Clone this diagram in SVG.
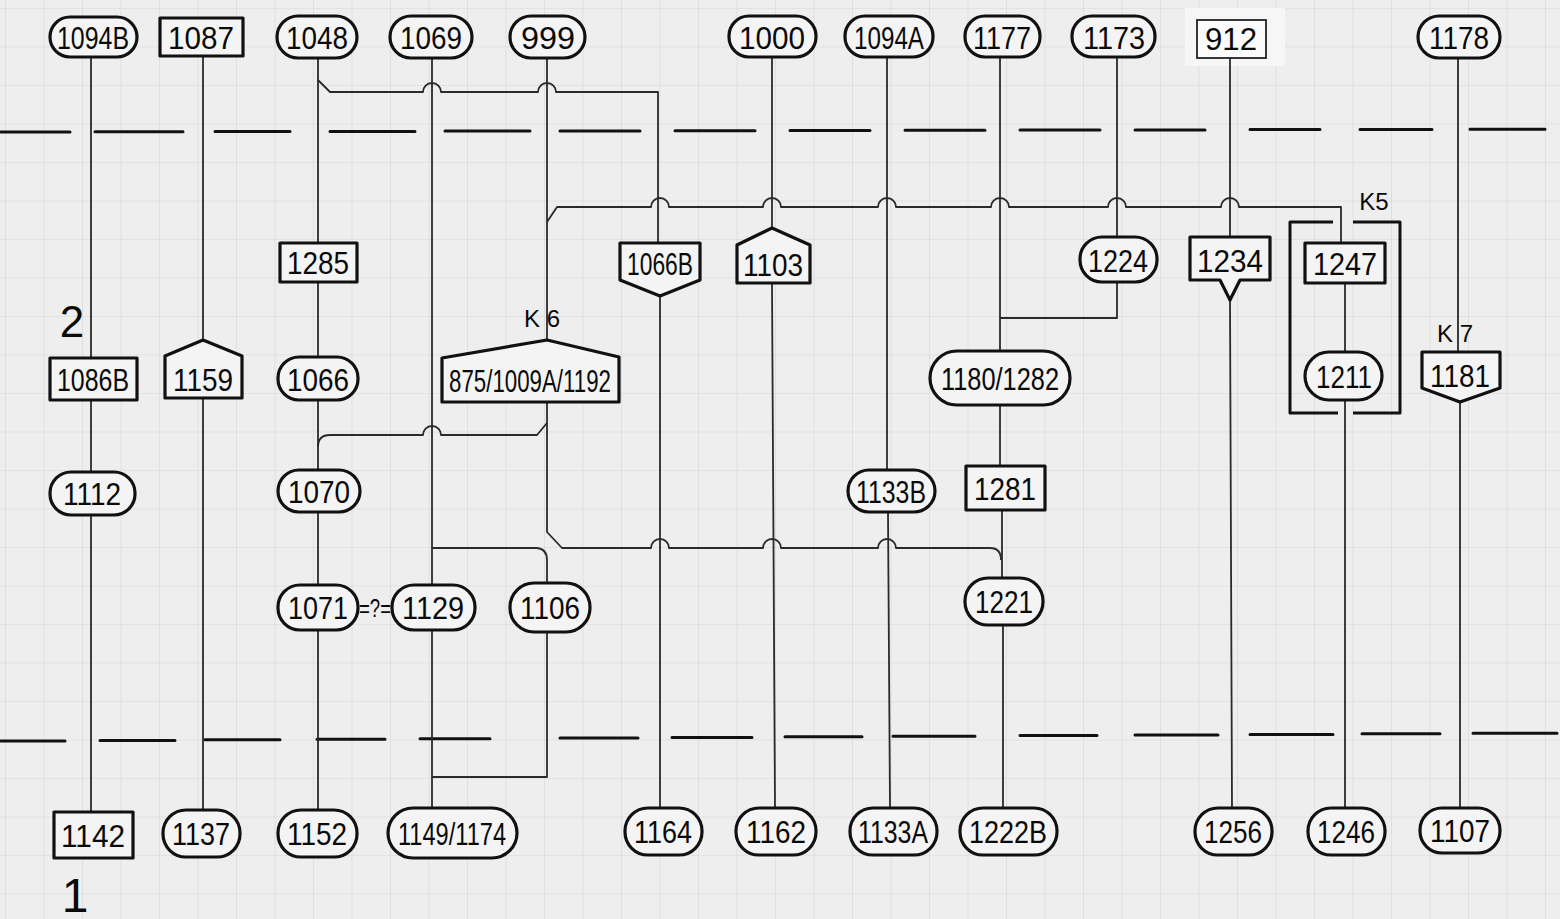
<svg xmlns="http://www.w3.org/2000/svg" width="1560" height="919" viewBox="0 0 1560 919">
<style>
.nd{fill:#f4f4f4;stroke:#111;stroke-width:3.2;stroke-linejoin:round}
.thin{fill:#fbfbfb;stroke:#222;stroke-width:1.8}
.ln{fill:none;stroke:#2a2a2a;stroke-width:1.8;stroke-linejoin:round}
.ph{fill:none;stroke:#111;stroke-width:3;stroke-linecap:round}
.br{fill:none;stroke:#111;stroke-width:3;stroke-linejoin:round}
.t{font-family:"Liberation Sans",Arial,sans-serif;font-size:32px;fill:#0a0a0a;text-anchor:middle}
.lb{font-family:"Liberation Sans",Arial,sans-serif;fill:#0a0a0a;text-anchor:middle}
</style>
<defs>
<pattern id="grid" x="5" y="8" width="38.5" height="38.5" patternUnits="userSpaceOnUse">
<path d="M0 0H38.5M0 0V38.5" fill="none" stroke="#d6d6d6" stroke-width="1.2"/>
</pattern>
</defs>
<rect width="1560" height="919" fill="#eeeeee"/>
<rect width="1560" height="919" fill="url(#grid)"/>
<rect x="1185" y="8" width="100" height="58" fill="#f6f6f6"/>

<g id="phase-lines">
<path class="ph" d="M0 132H70M95 131.8H183M215 131.6H290M330 131.4H415M445 131.1H530M560 130.9H640M675 130.7H755M790 130.5H870M905 130.3H985M1020 130.1H1100M1135 129.9H1205M1250 129.6H1320M1360 129.4H1432M1470 129.2H1545"/>
<path class="ph" d="M0 741H65M100 740.4H175M205 739.8H280M317 739.2H385M420 738.7H490M560 738H638M672 737.4H752M785 736.8H862M893 736.2H975M1020 735.6H1097M1135 735H1218M1250 734.4H1333M1362 733.8H1440M1473 733.3H1557"/>
</g>

<g id="connectors">
<path class="ln" d="M91 57V358M91 400V472M91 515V812"/>
<path class="ln" d="M203 56V340M203 398V810"/>
<path class="ln" d="M318 58V243M318 282V357M318 400V470M318 512V585M318 630V810"/>
<path class="ln" d="M432 58V585M432 630V808"/>
<path class="ln" d="M547 58V340"/>
<path class="ln" d="M318 80L330 92H423A9 9 0 0 1 441 92H538A9 9 0 0 1 556 92H658V243"/>
<path class="ln" d="M660 296V808"/>
<path class="ln" d="M772 57V228M772 283L775 808"/>
<path class="ln" d="M887 57V470M888 512L890 808"/>
<path class="ln" d="M1000 57V350M1000 405V466M1002 510V578M1003 625V808"/>
<path class="ln" d="M1117 57V237M1117 282V318H1000"/>
<path class="ln" d="M1230 58V237M1230 300L1232 808"/>
<path class="ln" d="M1345 283V352M1345 400V808"/>
<path class="ln" d="M1458 58V352M1460 402V808"/>
<path class="ln" d="M547 222L557 207H651A9 9 0 0 1 669 207H763A9 9 0 0 1 781 207H878A9 9 0 0 1 896 207H991A9 9 0 0 1 1009 207H1108A9 9 0 0 1 1126 207H1221A9 9 0 0 1 1239 207H1341V243"/>
<path class="ln" d="M318 447Q318 435 330 435H423A9 9 0 0 1 441 435H537L547 423"/>
<path class="ln" d="M547 402V532L562 548H651A9 9 0 0 1 669 548H763A9 9 0 0 1 781 548H878A9 9 0 0 1 896 548H990Q1001 548 1001 560"/>
<path class="ln" d="M432 548H537Q547 549 547 560V583"/>
<path class="ln" d="M547 632V777H432"/>
</g>

<g id="K5">
<path class="br" d="M1333 222H1290V413H1338M1353 222H1400V413H1353"/>
<text class="lb" x="1374" y="210" font-size="24">K5</text>
</g>

<g id="n1094B"><rect class="nd" x="50" y="17" width="87" height="40" rx="20"/><text class="t" x="93" y="49" textLength="72" lengthAdjust="spacingAndGlyphs">1094B</text></g>
<g id="n1087"><rect class="nd" x="160" y="18" width="83" height="38"/><text class="t" x="201" y="49" textLength="66" lengthAdjust="spacingAndGlyphs">1087</text></g>
<g id="n1048"><rect class="nd" x="277" y="16" width="80" height="42" rx="21"/><text class="t" x="317" y="49" textLength="62" lengthAdjust="spacingAndGlyphs">1048</text></g>
<g id="n1069"><rect class="nd" x="390" y="16" width="82" height="42" rx="21"/><text class="t" x="431" y="49" textLength="62" lengthAdjust="spacingAndGlyphs">1069</text></g>
<g id="n999"><rect class="nd" x="510" y="16" width="75" height="42" rx="21"/><text class="t" x="548" y="49" textLength="54" lengthAdjust="spacingAndGlyphs">999</text></g>
<g id="n1000"><rect class="nd" x="729" y="16" width="87" height="41" rx="20"/><text class="t" x="772" y="49" textLength="66" lengthAdjust="spacingAndGlyphs">1000</text></g>
<g id="n1094A"><rect class="nd" x="845" y="16" width="88" height="41" rx="20"/><text class="t" x="889" y="49" textLength="70" lengthAdjust="spacingAndGlyphs">1094A</text></g>
<g id="n1177"><rect class="nd" x="965" y="16" width="75" height="41" rx="20"/><text class="t" x="1002" y="49" textLength="58" lengthAdjust="spacingAndGlyphs">1177</text></g>
<g id="n1173"><rect class="nd" x="1072" y="16" width="83" height="41" rx="20"/><text class="t" x="1114" y="49" textLength="62" lengthAdjust="spacingAndGlyphs">1173</text></g>
<g id="n912"><rect class="thin" x="1197" y="20" width="69" height="38"/><text class="t" x="1231" y="50" font-size="28" textLength="52" lengthAdjust="spacingAndGlyphs">912</text></g>
<g id="n1178"><rect class="nd" x="1418" y="16" width="82" height="42" rx="21"/><text class="t" x="1459" y="49" textLength="60" lengthAdjust="spacingAndGlyphs">1178</text></g>

<g id="n1285"><rect class="nd" x="280" y="243" width="77" height="39"/><text class="t" x="318" y="274" textLength="62" lengthAdjust="spacingAndGlyphs">1285</text></g>
<g id="n1066B"><path class="nd" d="M620 243H700V280L660 296L620 280Z"/><text class="t" x="660" y="275" textLength="66" lengthAdjust="spacingAndGlyphs">1066B</text></g>
<g id="n1103"><path class="nd" d="M737 283V245L772 228L810 245V283Z"/><text class="t" x="773" y="276" textLength="60" lengthAdjust="spacingAndGlyphs">1103</text></g>
<g id="n1224"><rect class="nd" x="1080" y="237" width="77" height="45" rx="22"/><text class="t" x="1118" y="272" textLength="60" lengthAdjust="spacingAndGlyphs">1224</text></g>
<g id="n1234"><path class="nd" d="M1190 237H1270V280H1240L1230 300L1220 280H1190Z"/><text class="t" x="1230" y="272" textLength="66" lengthAdjust="spacingAndGlyphs">1234</text></g>
<g id="n1247"><rect class="nd" x="1305" y="243" width="80" height="40"/><text class="t" x="1345" y="275" textLength="64" lengthAdjust="spacingAndGlyphs">1247</text></g>

<text class="lb" x="72" y="337" font-size="44">2</text>
<g id="n1086B"><rect class="nd" x="50" y="358" width="87" height="42"/><text class="t" x="93" y="391" textLength="72" lengthAdjust="spacingAndGlyphs">1086B</text></g>
<g id="n1159"><path class="nd" d="M165 398V356L203 340L242 356V398Z"/><text class="t" x="203" y="391" textLength="60" lengthAdjust="spacingAndGlyphs">1159</text></g>
<g id="n1066"><rect class="nd" x="278" y="357" width="80" height="43" rx="21"/><text class="t" x="318" y="391" textLength="62" lengthAdjust="spacingAndGlyphs">1066</text></g>
<g id="K6"><text class="lb" x="542" y="327" font-size="24">K 6</text>
<path class="nd" d="M442 402V358L547 340L619 357V402Z"/><text class="t" x="530" y="392" textLength="162" lengthAdjust="spacingAndGlyphs">875/1009A/1192</text></g>
<g id="n1180_1282"><rect class="nd" x="930" y="351" width="140" height="54" rx="27"/><text class="t" x="1000" y="390" textLength="118" lengthAdjust="spacingAndGlyphs">1180/1282</text></g>
<g id="n1211"><rect class="nd" x="1305" y="352" width="77" height="48" rx="24"/><text class="t" x="1344" y="388" textLength="56" lengthAdjust="spacingAndGlyphs">1211</text></g>
<g id="K7"><text class="lb" x="1455" y="342" font-size="24">K 7</text>
<path class="nd" d="M1422 352H1500V388L1460 402L1422 388Z"/><text class="t" x="1460" y="387" textLength="60" lengthAdjust="spacingAndGlyphs">1181</text></g>

<g id="n1112"><rect class="nd" x="50" y="472" width="85" height="43" rx="21"/><text class="t" x="92" y="505" textLength="58" lengthAdjust="spacingAndGlyphs">1112</text></g>
<g id="n1070"><rect class="nd" x="278" y="470" width="82" height="42" rx="21"/><text class="t" x="319" y="503" textLength="62" lengthAdjust="spacingAndGlyphs">1070</text></g>
<g id="n1133B"><rect class="nd" x="848" y="470" width="87" height="42" rx="21"/><text class="t" x="891" y="503" textLength="70" lengthAdjust="spacingAndGlyphs">1133B</text></g>
<g id="n1281"><rect class="nd" x="966" y="466" width="79" height="44"/><text class="t" x="1005" y="500" textLength="62" lengthAdjust="spacingAndGlyphs">1281</text></g>

<g id="n1071"><rect class="nd" x="278" y="585" width="80" height="45" rx="22"/><text class="t" x="318" y="619" textLength="60" lengthAdjust="spacingAndGlyphs">1071</text></g>
<text class="lb" x="375" y="617" font-size="26" textLength="32" lengthAdjust="spacingAndGlyphs">=?=</text>
<g id="n1129"><rect class="nd" x="392" y="585" width="83" height="45" rx="22"/><text class="t" x="433" y="619" textLength="62" lengthAdjust="spacingAndGlyphs">1129</text></g>
<g id="n1106"><rect class="nd" x="510" y="583" width="80" height="49" rx="24"/><text class="t" x="550" y="619" textLength="60" lengthAdjust="spacingAndGlyphs">1106</text></g>
<g id="n1221"><rect class="nd" x="965" y="578" width="78" height="47" rx="23"/><text class="t" x="1004" y="613" textLength="58" lengthAdjust="spacingAndGlyphs">1221</text></g>

<g id="n1142"><rect class="nd" x="54" y="812" width="79" height="46"/><text class="t" x="93" y="847" textLength="64" lengthAdjust="spacingAndGlyphs">1142</text></g>
<g id="n1137"><rect class="nd" x="163" y="810" width="77" height="47" rx="23"/><text class="t" x="201" y="845" textLength="58" lengthAdjust="spacingAndGlyphs">1137</text></g>
<g id="n1152"><rect class="nd" x="278" y="810" width="79" height="47" rx="23"/><text class="t" x="317" y="845" textLength="60" lengthAdjust="spacingAndGlyphs">1152</text></g>
<g id="n1149_1174"><rect class="nd" x="388" y="808" width="129" height="50" rx="25"/><text class="t" x="452" y="845" textLength="108" lengthAdjust="spacingAndGlyphs">1149/1174</text></g>
<g id="n1164"><rect class="nd" x="625" y="808" width="77" height="47" rx="23"/><text class="t" x="663" y="843" textLength="58" lengthAdjust="spacingAndGlyphs">1164</text></g>
<g id="n1162"><rect class="nd" x="736" y="808" width="80" height="47" rx="23"/><text class="t" x="776" y="843" textLength="60" lengthAdjust="spacingAndGlyphs">1162</text></g>
<g id="n1133A"><rect class="nd" x="850" y="808" width="87" height="47" rx="23"/><text class="t" x="893" y="843" textLength="70" lengthAdjust="spacingAndGlyphs">1133A</text></g>
<g id="n1222B"><rect class="nd" x="960" y="808" width="97" height="47" rx="23"/><text class="t" x="1008" y="843" textLength="78" lengthAdjust="spacingAndGlyphs">1222B</text></g>
<g id="n1256"><rect class="nd" x="1195" y="808" width="77" height="47" rx="23"/><text class="t" x="1233" y="843" textLength="58" lengthAdjust="spacingAndGlyphs">1256</text></g>
<g id="n1246"><rect class="nd" x="1308" y="808" width="77" height="47" rx="23"/><text class="t" x="1346" y="843" textLength="58" lengthAdjust="spacingAndGlyphs">1246</text></g>
<g id="n1107"><rect class="nd" x="1420" y="808" width="80" height="45" rx="22"/><text class="t" x="1460" y="842" textLength="60" lengthAdjust="spacingAndGlyphs">1107</text></g>
<text class="lb" x="75" y="912" font-size="48">1</text>
</svg>
